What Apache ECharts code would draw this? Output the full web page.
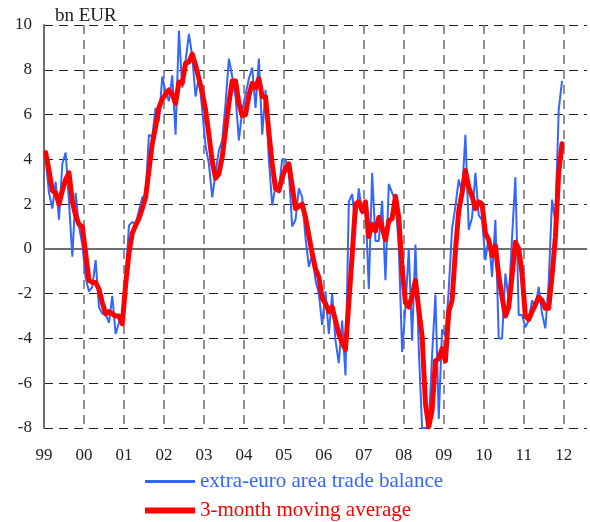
<!DOCTYPE html>
<html style="height: 100%">
<head>
<meta charset="utf-8">
<script src="https://cdn.jsdelivr.net/npm/echarts@6/dist/echarts.min.js"></script>
</head>
<body style="height: 100%; margin: 0; background: #fff">
<div id="container" style="width: 590px; height: 522px"></div>
<script type="text/javascript">
// monthly values, Jan 1999 .. Dec 2011 (bn EUR)
var yearLabels = ['99', '00', '01', '02', '03', '04', '05', '06', '07', '08', '09', '10', '11', '12'];

var tradeBalance = [
    4.0, 2.5, 1.8, 3.0, 1.3, 3.8, 4.3, 2.1, -0.35, 2.5, 1.0, 0.2,          // 1999
    -1.3, -1.9, -1.7, -0.5, -2.6, -2.9, -2.9, -3.3, -2.1, -3.8, -3.3, -3.0, // 2000
    -1.4, 1.05, 1.2, 1.1, 1.7, 2.3, 2.4, 5.1, 5.0, 6.3, 5.7, 7.7,          // 2001
    7.0, 6.6, 7.75, 5.1, 9.75, 7.2, 8.4, 9.6, 8.6, 6.8, 7.7, 6.2,          // 2002
    4.6, 3.8, 2.3, 3.4, 4.4, 4.85, 6.5, 8.5, 7.7, 6.8, 4.85, 6.2,          // 2003
    6.9, 7.6, 8.1, 6.3, 8.5, 5.1, 7.1, 4.0, 1.95, 2.8, 2.6, 4.0,           // 2004
    4.0, 3.4, 1.0, 1.3, 2.7, 2.3, 0.5, -0.8, -0.3, -1.4, -2.0, -3.4,       // 2005
    -1.9, -3.8, -2.0, -4.1, -5.1, -3.2, -5.65, 2.1, 2.45, 1.1, 2.7, 1.55,  // 2006
    2.0, -1.8, 3.4, 0.35, 0.35, 2.15, -1.4, 2.9, 2.5, 2.15, 0.1, -4.6,     // 2007
    -2.6, 0.0, -4.1, 0.2, -4.5, -8.0, -8.0, -7.9, -4.75, -2.05, -7.6, -3.6, // 2008
    -3.9, -1.8, 0.9, 1.9, 3.1, 2.5, 5.1, 0.85, 1.4, 3.4, 1.5, 1.3,         // 2009
    -0.5, 0.55, -1.25, 1.3, -4.0, -4.0, -1.1, -2.3, 0.5, 3.2, -2.95, -2.95, // 2010
    -3.5, -3.2, -2.3, -2.6, -1.7, -2.9, -3.55, -1.5, 2.2, 1.2, 6.2, 7.5    // 2011
];

var movingAverage = [
    4.3, 3.5, 2.6, 2.5, 2.0, 2.6, 3.1, 3.4, 2.1, 1.5, 1.1, 1.0,
    -0.2, -1.4, -1.5, -1.5, -1.8, -2.4, -2.9, -2.8, -2.9, -3.0, -3.0, -3.35,
    -1.6, -0.2, 0.7, 1.05, 1.35, 1.8, 2.3, 3.5, 4.7, 5.45, 6.3, 6.7,
    6.9, 7.1, 6.9, 6.5, 7.45, 7.4, 8.3, 8.35, 8.7, 8.2, 7.6, 7.0,
    6.2, 5.1, 3.9, 3.15, 3.35, 4.1, 5.3, 6.5, 7.5, 7.5, 6.5, 5.95,
    6.0, 6.85, 7.4, 7.2, 7.6, 6.8, 6.8, 5.2, 3.8, 2.7, 2.6, 3.2,
    3.6, 3.8, 2.8, 1.8, 1.9, 2.0, 1.4, 0.6, -0.2, -0.9, -1.25, -2.2,
    -2.45, -2.8, -2.6, -3.2, -3.8, -4.2, -4.5, -2.4, -0.3, 2.0, 2.1, 1.7,
    2.1, 0.55, 1.1, 0.8, 1.4, 0.95, 0.4, 1.25, 1.35, 2.35, 1.4, -0.9,
    -2.4, -2.6, -2.1, -1.4, -2.7, -3.9, -6.9, -7.95, -7.2, -5.0, -4.9, -4.45,
    -5.0, -2.8, -2.3, -0.1, 1.7, 2.5, 3.5, 2.75, 2.35, 1.8, 2.1, 2.0,
    0.7, 0.4, -0.3, 0.15, -1.2, -2.15, -3.0, -2.6, -1.2, 0.3, 0.0, -1.1,
    -3.0, -3.15, -2.8, -2.5, -2.15, -2.3, -2.65, -2.65, -1.2, 0.5, 3.4, 4.7
];

var seriesNames = ['extra-euro area trade balance', '3-month moving average'];
var blue = '#3366ff', red = '#ff0000';
var serif = 'Liberation Serif';

// x = months since Jan 1999, each point in the middle of its month
function toPoints(arr) {
    return arr.map(function (v, i) { return [i + 0.5, v]; });
}

function legendFor(name, color, top, thickness) {
    return {
        left: 145,
        top: top,
        padding: 0,
        icon: 'rect',
        itemWidth: 50,
        itemHeight: thickness,
        selectedMode: false,
        textStyle: {fontFamily: serif, fontSize: 21, color: color},
        data: [{name: name, itemStyle: {color: color}}]
    };
}

var gridColors = [];
for (var k = 0; k < yearLabels.length; k++) gridColors.push('#6e6e6e');
gridColors.push('rgba(0,0,0,0)');   // no line at the right edge

var myChart = echarts.init(document.getElementById('container'), null, {renderer: 'canvas'});
var option = {
    animation: false,
    title: {
        text: 'bn EUR',
        left: 50,
        top: 2,
        textStyle: {fontFamily: serif, fontSize: 19, fontWeight: 'normal', color: '#222'}
    },
    grid: {left: 44, right: 3, top: 25, bottom: 94},
    legend: [
        legendFor(seriesNames[0], blue, 471, 3),
        legendFor(seriesNames[1], red, 500, 6)
    ],
    xAxis: {
        type: 'value',
        min: 0,
        max: 163,
        interval: 12,
        axisLine: {show: false},
        axisTick: {show: false},
        axisLabel: {
            margin: 19,
            fontFamily: serif,
            fontSize: 17,
            color: '#222',
            formatter: function (v) {
                var y = v / 12;
                return (v % 12 === 0 && y < yearLabels.length) ? yearLabels[y] : '';
            }
        },
        splitLine: {show: true, lineStyle: {color: gridColors, width: 1.5, type: [9, 6]}}
    },
    yAxis: {
        type: 'value',
        min: -8,
        max: 10,
        interval: 2,
        axisLine: {show: true, lineStyle: {color: '#6e6e6e', width: 2}},
        axisTick: {show: false},
        axisLabel: {margin: 12, fontFamily: serif, fontSize: 17, color: '#222'},
        splitLine: {show: true, lineStyle: {color: '#222', width: 1, type: [9, 6]}}
    },
    series: [
        {
            name: seriesNames[0],
            type: 'line',
            symbol: 'none',
            z: 3,
            data: toPoints(tradeBalance),
            lineStyle: {color: blue, width: 2},
            itemStyle: {color: blue},
            markLine: {
                silent: true,
                symbol: 'none',
                z: 1,
                label: {show: false},
                lineStyle: {color: '#6e6e6e', width: 2, type: 'solid'},
                data: [{yAxis: 0}]
            }
        },
        {
            name: seriesNames[1],
            type: 'line',
            symbol: 'none',
            z: 4,
            data: toPoints(movingAverage),
            lineStyle: {color: red, width: 5, join: 'round', cap: 'round'},
            itemStyle: {color: red}
        }
    ]
};
myChart.setOption(option);
</script>
</body>
</html>
